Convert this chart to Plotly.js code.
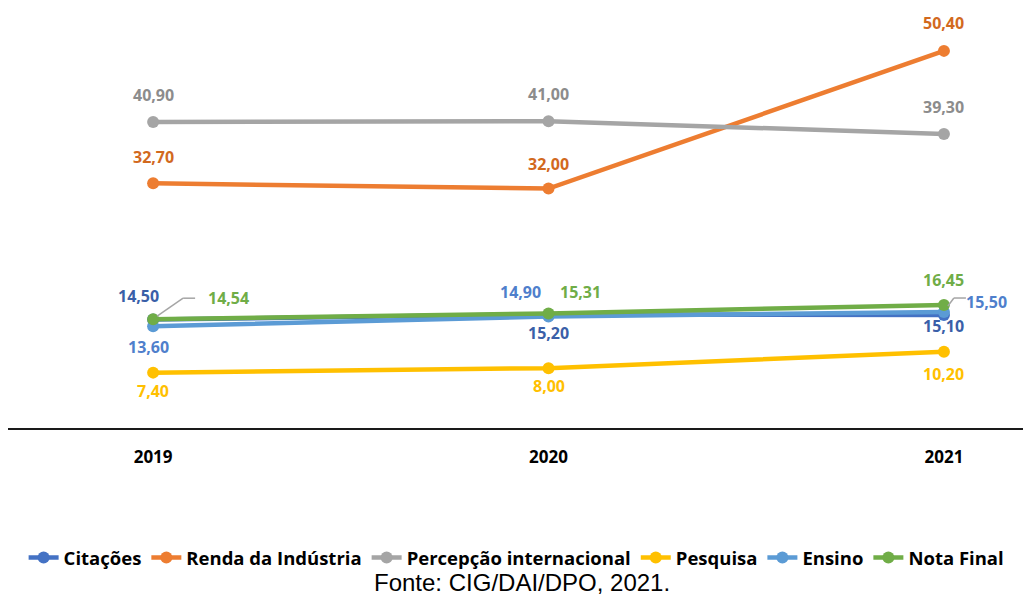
<!DOCTYPE html>
<html><head><meta charset="utf-8">
<script src="https://cdn.plot.ly/plotly-3.0.1.min.js"></script>
<style>html,body{margin:0;padding:0;background:#fff}#chart{width:1023px;height:599px}</style>
</head><body><div id="chart"></div>
<script>
const years = ['2019', '2020', '2021'];
const citacoes = [14.50, 15.20, 15.10];
const rendaIndustria = [32.70, 32.00, 50.40];
const percepcao = [40.90, 41.00, 39.30];
const pesquisa = [7.40, 8.00, 10.20];
const ensino = [13.60, 14.90, 15.50];
const notaFinal = [14.54, 15.31, 16.45];
const source = 'Fonte: CIG/DAI/DPO, 2021.';

const series = [
  {name: 'Citações', y: citacoes, color: '#4472C4', label: '#3A5FA8', off: [[-15, 24], [0, -19], [0, -11]]},
  {name: 'Renda da Indústria', y: rendaIndustria, color: '#ED7D31', label: '#D2691E', off: [[0, 26], [0, 25], [0, 28]]},
  {name: 'Percepção internacional', y: percepcao, color: '#A5A5A5', label: '#8C8C8C', off: [[0, 27], [0, 27], [0, 27]]},
  {name: 'Pesquisa', y: pesquisa, color: '#FFC000', label: '#FFC000', off: [[0, -18], [0, -18], [0, -22]]},
  {name: 'Ensino', y: ensino, color: '#5B9BD5', label: '#4F7FCC', off: [[-5, -21], [-28, 25], [43, 10]]},
  {name: 'Nota Final', y: notaFinal, color: '#70AD47', label: '#70AD47', off: [[75, 21], [32, 21], [0, 25]]}
];

const xs = years.map((_, i) => i);
const fmt = v => v.toFixed(2).replace('.', ',');
const font = 'Open Sans, Lato, sans-serif';

const traces = series.map(s => ({
  type: 'scatter', mode: 'lines+markers', name: s.name,
  x: xs, y: s.y,
  line: {color: s.color, width: 4.5},
  marker: {color: s.color, size: 12},
  hoverinfo: 'skip'
}));

const annotations = [];
series.forEach(s => {
  s.y.forEach((v, i) => {
    annotations.push({
      x: xs[i], y: v, xref: 'x', yref: 'y', text: fmt(v), showarrow: false,
      xshift: s.off[i][0], yshift: s.off[i][1],
      font: {family: font, size: 16, color: s.label, weight: 'bold'}
    });
  });
});
annotations.push({
  xref: 'paper', yref: 'paper', x: 0.506, y: -0.362, xanchor: 'center', yanchor: 'middle',
  text: source, showarrow: false,
  font: {family: 'Liberation Sans, Arial, sans-serif', size: 24, color: '#000'}
});

const leader = (xi, yv, pts) => pts.slice(1).map((p, k) => ({
  type: 'line', xref: 'x', yref: 'y', xsizemode: 'pixel', ysizemode: 'pixel',
  xanchor: xi, yanchor: yv,
  x0: pts[k][0], y0: pts[k][1], x1: p[0], y1: p[1],
  line: {color: '#A5A5A5', width: 1.5}
}));
const shapes = [
  ...leader(xs[0], notaFinal[0], [[4, 3], [30, 21], [42, 21]]),
  ...leader(xs[2], ensino[2], [[4, 6], [10, 14], [22, 14]])
];

const layout = {
  width: 1023, height: 599,
  margin: {l: 8, r: 0, t: 0, b: 171},
  paper_bgcolor: '#fff', plot_bgcolor: '#fff',
  showlegend: true,
  legend: {
    orientation: 'h', xref: 'container', yref: 'container',
    x: 0.505, xanchor: 'center', y: 1 - 558 / 599, yanchor: 'middle',
    font: {family: font, size: 18.5, color: '#000', weight: 'bold'},
    itemwidth: 30, tracegroupgap: 0
  },
  xaxis: {
    range: [-0.367, 2.2], tickvals: xs, ticktext: years,
    showgrid: false, zeroline: false,
    showline: true, linecolor: '#1a1a1a', linewidth: 2,
    ticks: 'outside', ticklen: 13, tickcolor: 'rgba(0,0,0,0)',
    tickfont: {family: font, size: 17, color: '#000', weight: 'bold'},
    fixedrange: true
  },
  yaxis: {
    range: [0, 57.2], showgrid: false, zeroline: false, showticklabels: false,
    showline: false, fixedrange: true
  },
  annotations, shapes
};

Plotly.newPlot('chart', traces, layout, {displayModeBar: false, staticPlot: true});
</script></body></html>
